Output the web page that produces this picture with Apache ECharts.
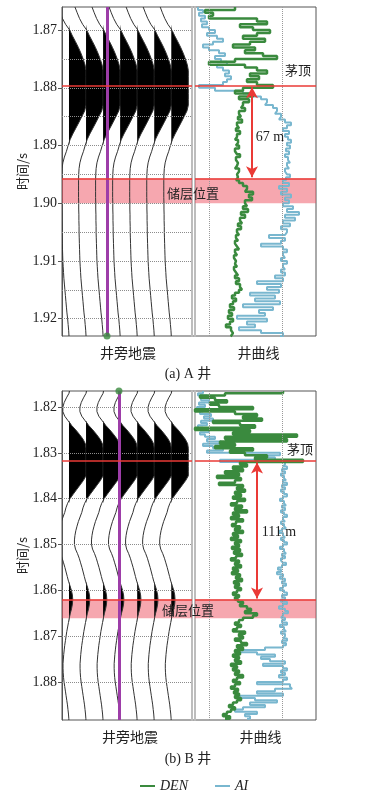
<!DOCTYPE html>
<html>
<head>
<meta charset="utf-8">
<title>井震标定</title>
<script src="https://cdn.jsdelivr.net/npm/echarts@6/dist/echarts.min.js"></script>
<style>
html, body { margin: 0; padding: 0; background: #fff; }
#chart { width: 376px; height: 796px; }
</style>
</head>
<body>
<div id="chart"></div>
<script>
// 采样起点与间隔
const logStartA = 1.866, logStartB = 1.8165, logStep = 0.0005;
const traceStartA = 1.866, traceStartB = 1.816, traceStep = 0.001;

// A井 DEN / AI（曲线道内相对刻度 0~121）
const denA = [40,10,18,14,62,72,45,58,75,62,
  48,70,55,38,60,50,68,82,40,14,
  50,62,72,55,64,52,62,78,48,40,
  58,44,54,48,46,50,44,46,43,47,
  42,44,41,45,42,40,43,41,44,40,
  42,45,41,43,42,40,44,42,43,41,
  44,48,52,50,58,54,57,50,52,48,
  53,46,50,45,47,43,46,42,44,41,
  43,40,42,44,40,42,39,41,40,42,
  39,41,43,40,44,41,45,47,44,40,
  37,41,38,35,39,34,37,33,38,35,
  31,36,38,36,37];
const aiA = [3,8,4,10,6,12,7,14,20,12,
  22,28,18,8,14,24,30,20,26,32,
  22,28,34,30,36,32,28,4,20,48,
  58,66,72,70,78,82,80,86,84,90,
  96,92,88,94,90,93,96,92,95,91,
  94,90,93,95,92,94,90,92,95,91,
  88,94,84,92,86,96,90,94,88,98,
  92,104,90,100,88,95,86,92,90,74,
  90,86,66,88,92,88,90,86,92,88,
  90,86,90,80,88,62,86,72,84,55,
  80,60,85,48,78,64,70,42,72,52,
  60,44,66,88,85];

// B井 DEN / AI
const denB = [88,30,5,20,32,15,24,58,0,40,
  62,48,67,18,45,60,0,55,38,102,
  30,92,25,40,20,58,35,50,72,60,
  108,45,52,38,48,30,44,22,46,40,
  24,48,42,50,40,46,38,50,42,36,
  47,40,52,38,44,36,48,41,37,45,
  40,48,38,43,36,46,40,44,37,45,
  39,47,41,36,44,40,46,38,43,37,
  45,41,47,39,44,40,46,42,38,44,
  40,43,48,45,52,56,50,62,58,48,
  44,40,46,42,38,50,44,48,40,46,
  52,42,48,40,45,38,44,40,46,36,
  42,38,44,40,48,42,38,45,40,36,
  43,39,44,40,46,42,38,34,40,36,
  32,28,35,30];
const aiB = [8,3,12,6,14,4,10,2,8,5,
  16,9,18,6,12,3,8,14,5,10,
  20,12,26,8,18,28,12,85,60,80,
  25,90,88,92,87,90,86,89,91,88,
  92,87,90,86,89,92,88,85,89,91,
  87,90,86,89,92,88,90,86,89,91,
  87,84,88,90,86,89,92,88,85,89,
  91,87,90,86,88,91,87,83,86,82,
  88,85,90,87,91,88,85,89,92,87,
  90,86,92,88,84,90,93,88,86,90,
  87,92,85,89,91,86,90,88,92,87,
  91,88,70,45,62,80,66,75,90,68,
  88,92,86,90,84,92,88,62,95,97,
  80,62,88,45,60,82,55,70,48,40,
  62,50,55,52];

// 井旁地震道振幅（以道间距为单位，正值向右充填）
const wiggleA = [-0.65,-0.52,-0.38,-0.2,0.04,0.2,0.38,0.55,0.7,0.83,
  0.94,1,1,1,1,1,1,1,0.92,0.75,
  0.58,0.4,0.22,0.06,-0.05,-0.15,-0.27,-0.36,-0.41,-0.43,
  -0.44,-0.44,-0.44,-0.44,-0.43,-0.43,-0.42,-0.42,-0.41,-0.41,
  -0.4,-0.39,-0.38,-0.37,-0.36,-0.34,-0.32,-0.3,-0.27,-0.24,
  -0.21,-0.18,-0.15,-0.12,-0.08,-0.05,-0.02,0];
const wiggleB = [0.05,0,-0.15,-0.28,-0.36,-0.36,-0.25,-0.05,0.15,0.4,
  0.62,0.82,0.96,1,1,1,1,1,1,1,
  0.85,0.65,0.45,0.25,0.06,-0.08,-0.18,-0.25,-0.35,-0.45,
  -0.53,-0.6,-0.65,-0.68,-0.68,-0.62,-0.5,-0.4,-0.32,-0.24,
  -0.17,-0.1,-0.03,0.06,0.14,0.2,0.22,0.2,0.15,0.08,
  0.02,-0.03,-0.08,-0.13,-0.17,-0.21,-0.25,-0.28,-0.31,-0.33,
  -0.35,-0.35,-0.34,-0.32,-0.29,-0.25,-0.21,-0.17,-0.13,-0.09,
  -0.06,-0.03,-0.01,0];
const tracePos = [1, 2, 3, 4, 5, 6, 7];

// 刻度与网格
const ticksA = [1.87, 1.88, 1.89, 1.90, 1.91, 1.92];
const ticksB = [1.82, 1.83, 1.84, 1.85, 1.86, 1.87, 1.88];
const gridLinesA = [1.87, 1.875, 1.88, 1.885, 1.89, 1.895, 1.90, 1.905, 1.91, 1.915, 1.92];
const gridLinesB = [1.82, 1.83, 1.84, 1.85, 1.86, 1.87, 1.88];
const logGridX = [14, 87];

// 层位
const topA = 1.8796, zoneA = [1.8957, 1.90], wellA = 3.23, arrowXA = 57;
const topB = 1.8318, zoneB = [1.862, 1.8661], wellB = 3.93, arrowXB = 62;

const serif = "'Liberation Serif', 'Noto Sans CJK SC', serif";
const GREEN = '#3a8a3e', BLUE = '#79b7cf', RED = '#ea3a36', PURPLE = '#9d3da8';

const chart = echarts.init(document.getElementById('chart'));

function logPairs(vals, start) {
  return vals.map((v, i) => [v, +(start + i * logStep).toFixed(4)]);
}

// 变面积波形道
function traceSeries(xi, yi, wiggle, start) {
  return {
    type: 'custom', xAxisIndex: xi, yAxisIndex: yi, clip: true, silent: true, z: 2,
    data: tracePos.map(p => [p, start]),
    renderItem: function (params, api) {
      const base = api.value(0);
      const line = [], fill = [api.coord([base, start])];
      wiggle.forEach((a, i) => {
        const t = start + i * traceStep;
        line.push(api.coord([base + a, t]));
        fill.push(api.coord([base + Math.max(a, 0), t]));
      });
      fill.push(api.coord([base, start + (wiggle.length - 1) * traceStep]));
      return {
        type: 'group',
        children: [
          { type: 'polygon', shape: { points: fill }, style: { fill: '#000' } },
          { type: 'polyline', shape: { points: line }, style: { fill: null, stroke: '#333', lineWidth: 1 } }
        ]
      };
    }
  };
}

function bandAndTops(top, zone, extra) {
  return {
    markArea: {
      silent: true,
      itemStyle: { color: 'rgba(238,80,95,0.5)' },
      data: [[{ yAxis: zone[0] }, { yAxis: zone[1] }]]
    },
    markLine: {
      silent: true, precision: 5, symbol: ['none', 'none'], label: { show: false },
      lineStyle: { color: RED, width: 1.5, type: 'solid' },
      data: [{ yAxis: top }, { yAxis: zone[0] }].concat(extra || [])
    }
  };
}

function seismicPanel(xi, yi, wiggle, start, gridLines, well, wellEnd, top, zone) {
  return [
    traceSeries(xi, yi, wiggle, start),
    {
      type: 'line', xAxisIndex: xi, yAxisIndex: yi, data: [[well, zone[0]]], symbol: 'none', silent: true, z: 3,
      markLine: {
        silent: true, precision: 5, symbol: ['none', 'none'], label: { show: false },
        data: gridLines.map(v => ({ yAxis: v, lineStyle: { color: '#8c8c8c', type: 'dotted', width: 1 } }))
          .concat([{ xAxis: well, lineStyle: { color: PURPLE, type: 'solid', width: 3 } }])
      }
    },
    Object.assign({ type: 'line', xAxisIndex: xi, yAxisIndex: yi, data: [[well, zone[0]]], symbol: 'none', silent: true, z: 4 },
      bandAndTops(top, zone)),
    {
      type: 'scatter', xAxisIndex: xi, yAxisIndex: yi, data: [[well, wellEnd]], symbolSize: 7,
      itemStyle: { color: GREEN }, silent: true, z: 6
    }
  ];
}

function logPanel(xi, yi, den, ai, start, top, zone, arrowX) {
  const arrow = [
    { coord: [arrowX, top + 0.0003], symbol: 'arrow', symbolSize: [9, 11], lineStyle: { color: RED, width: 2 } },
    { coord: [arrowX, zone[0] - 0.0002], symbol: 'arrow', symbolSize: [9, 11] }
  ];
  return [
    {
      name: 'AI', type: 'line', xAxisIndex: xi, yAxisIndex: yi, data: logPairs(ai, start), step: 'start',
      symbol: 'none', color: BLUE, lineStyle: { color: BLUE, width: 2 }, silent: true, z: 2,
      markLine: {
        silent: true, precision: 5, symbol: ['none', 'none'], label: { show: false },
        lineStyle: { color: '#999', type: 'dotted', width: 1 },
        data: logGridX.map(v => ({ xAxis: v }))
      }
    },
    {
      name: 'DEN', type: 'line', xAxisIndex: xi, yAxisIndex: yi, data: logPairs(den, start), step: 'start',
      symbol: 'none', color: GREEN, lineStyle: { color: GREEN, width: 2.5 }, silent: true, z: 3
    },
    Object.assign({ type: 'line', xAxisIndex: xi, yAxisIndex: yi, data: [[arrowX, zone[0]]], symbol: 'none', silent: true, z: 4 },
      bandAndTops(top, zone, [arrow]))
  ];
}

const hidden = { show: false };
function timeAxis(gi, min, max, ticks) {
  return {
    gridIndex: gi, type: 'value', inverse: true, min: min, max: max,
    name: '时间/s', nameLocation: 'middle', nameGap: 33, nameRotate: 90,
    nameTextStyle: { fontSize: 13, color: '#222', fontFamily: "'Noto Sans CJK SC'" },
    axisLine: { show: true, lineStyle: { color: '#555' } },
    axisTick: { show: true, length: 4, customValues: ticks, lineStyle: { color: '#555' } },
    axisLabel: { customValues: ticks, formatter: v => v.toFixed(2), fontSize: 14, color: '#222', fontFamily: serif, margin: 5 },
    splitLine: { show: false }
  };
}
function dividerAxis(gi, min, max, pos) {
  return {
    gridIndex: gi, type: 'value', inverse: true, min: min, max: max, position: pos,
    axisLine: { show: true, lineStyle: { color: '#bdbdbd', width: 2 } },
    axisTick: { show: false }, axisLabel: { show: false }, splitLine: { show: false }
  };
}
function nameAxis(gi, min, max, name, pad) {
  return {
    gridIndex: gi, type: 'value', min: min, max: max, position: 'bottom',
    name: name, nameLocation: 'middle', nameGap: 10,
    nameTextStyle: { fontSize: 14, color: '#222', fontFamily: "'Noto Sans CJK SC'", padding: [0, 0, 0, pad] },
    axisLine: { show: false }, axisTick: { show: false }, axisLabel: { show: false }, splitLine: { show: false }
  };
}

const minA = 1.866, maxA = 1.923, minB = 1.8165, maxB = 1.8883;
const seisMin = 0.59, seisMax = 8.215;

function label(text, x, y, size, family) {
  return {
    type: 'text', x: x, y: y, z: 100, silent: true,
    style: {
      text: text, fill: '#222', font: size + 'px ' + (family || serif),
      align: 'center', verticalAlign: 'middle', textAlign: 'center', textVerticalAlign: 'middle'
    }
  };
}

const option = {
  animation: false,
  backgroundColor: '#fff',
  grid: [
    { left: 62, top: 7, width: 254, height: 329, show: true, borderColor: '#555', borderWidth: 1 },
    { left: 62, top: 7, width: 130, height: 329 },
    { left: 195, top: 7, width: 121, height: 329 },
    { left: 62, top: 391, width: 254, height: 329, show: true, borderColor: '#555', borderWidth: 1 },
    { left: 62, top: 391, width: 130, height: 329 },
    { left: 195, top: 391, width: 121, height: 329 }
  ],
  xAxis: [
    Object.assign({ gridIndex: 0, min: 0, max: 1 }, hidden),
    nameAxis(1, seisMin, seisMax, '井旁地震', 2),
    nameAxis(2, 0, 121, '井曲线', 6),
    Object.assign({ gridIndex: 3, min: 0, max: 1 }, hidden),
    nameAxis(4, seisMin, seisMax, '井旁地震', 6),
    nameAxis(5, 0, 121, '井曲线', 10)
  ],
  yAxis: [
    Object.assign({ gridIndex: 0, min: 0, max: 1 }, hidden),
    timeAxis(1, minA, maxA, ticksA),
    dividerAxis(1, minA, maxA, 'right'),
    dividerAxis(2, minA, maxA, 'left'),
    Object.assign({ gridIndex: 3, min: 0, max: 1 }, hidden),
    timeAxis(4, minB, maxB, ticksB),
    dividerAxis(4, minB, maxB, 'right'),
    dividerAxis(5, minB, maxB, 'left')
  ],
  legend: {
    data: ['DEN', 'AI'], left: 135, top: 774, icon: 'rect', itemWidth: 15, itemHeight: 2, itemGap: 27,
    selectedMode: false,
    textStyle: { fontSize: 14, fontStyle: 'italic', fontFamily: serif, color: '#222' }
  },
  graphic: [
    label('茅顶', 298, 70, 13, "'Noto Sans CJK SC'"),
    label('67 m', 270, 137, 14),
    label('储层位置', 193, 193, 13, "'Noto Sans CJK SC'"),
    label('(a) A 井', 188, 374, 14),
    label('茅顶', 300, 449, 13, "'Noto Sans CJK SC'"),
    label('111 m', 279, 532, 14),
    label('储层位置', 188, 610, 13, "'Noto Sans CJK SC'"),
    label('(b) B 井', 188, 759, 14)
  ],
  series: [].concat(
    seismicPanel(1, 1, wiggleA, traceStartA, gridLinesA, wellA, maxA, topA, zoneA),
    logPanel(2, 3, denA, aiA, logStartA, topA, zoneA, arrowXA),
    seismicPanel(4, 5, wiggleB, traceStartB, gridLinesB, wellB, minB, topB, zoneB),
    logPanel(5, 7, denB, aiB, logStartB, topB, zoneB, arrowXB)
  )
};

chart.setOption(option);
window.addEventListener('resize', () => chart.resize());
</script>
</body>
</html>
